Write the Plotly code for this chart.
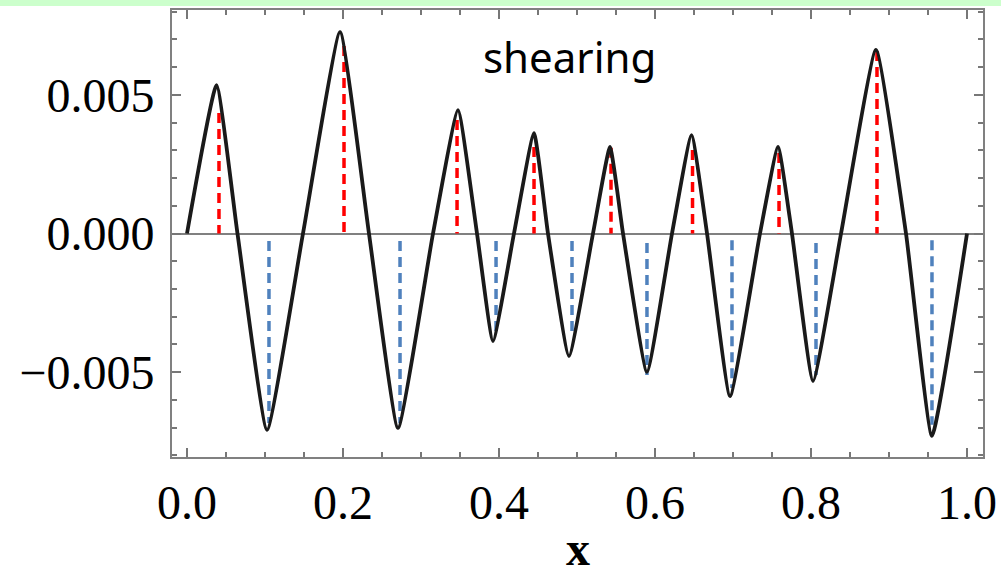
import plotly.graph_objects as go

# Main curve: key points (start, peaks, zero crossings, troughs, end)
curve_x = [0.0, 0.0378, 0.0647, 0.1026, 0.1487, 0.1962, 0.2333, 0.2705, 0.3154, 0.3474,
           0.3718, 0.3923, 0.4192, 0.4449, 0.4628, 0.4897, 0.5205, 0.5423, 0.5590, 0.5897,
           0.6218, 0.6468, 0.6667, 0.6962, 0.7346, 0.7577, 0.7756, 0.8026, 0.8385, 0.8833,
           0.9218, 0.9551, 1.0]
curve_y = [0.0, 0.00535, 0.0, -0.00708, 0.0, 0.00726, 0.0, -0.00701, 0.0, 0.00445,
           0.0, -0.00388, 0.0, 0.00362, 0.0, -0.00442, 0.0, 0.00312, 0.0, -0.00499,
           0.0, 0.00355, 0.0, -0.00586, 0.0, 0.00312, 0.0, -0.00532, 0.0, 0.00662,
           0.0, -0.00730, 0.0]

# Red dashed markers (positive lobes)
red_x = [0.0410, 0.2013, 0.3462, 0.4449, 0.5436, 0.6481, 0.7590, 0.8846]
red_top = [0.00435, 0.00676, 0.00409, 0.00312, 0.00309, 0.00301, 0.00290, 0.00658]

# Blue dashed markers (negative lobes)
blue_x = [0.1051, 0.2731, 0.3962, 0.4936, 0.5897, 0.6987, 0.8064, 0.9551]
blue_start = [-0.00027, -0.00027, -0.00027, -0.00027, -0.00034, -0.00024, -0.00034, -0.00024]
blue_bottom = [-0.00683, -0.00683, -0.00359, -0.00355, -0.00510, -0.00557, -0.00510, -0.00690]

x_ticks = [0.0, 0.2, 0.4, 0.6, 0.8, 1.0]
y_ticks = [-0.005, 0.0, 0.005]

fig = go.Figure()

rx, ry = [], []
for xv, tv in zip(red_x, red_top):
    rx += [xv, xv, None]
    ry += [tv, 0.0, None]
fig.add_trace(go.Scatter(x=rx, y=ry, mode="lines",
                         line=dict(color="#ff0000", width=3.5, dash="10px,6px"),
                         hoverinfo="skip", showlegend=False))

bx, by = [], []
for xv, sv, bv in zip(blue_x, blue_start, blue_bottom):
    bx += [xv, xv, None]
    by += [sv, bv, None]
fig.add_trace(go.Scatter(x=bx, y=by, mode="lines",
                         line=dict(color="#4f81bd", width=3.5, dash="10px,6px"),
                         hoverinfo="skip", showlegend=False))

fig.add_trace(go.Scatter(x=curve_x, y=curve_y, mode="lines",
                         line=dict(color="#1a1a1a", width=3.8, shape="spline", smoothing=0.4),
                         showlegend=False))

fig.add_annotation(x=0.491, y=0.897, xref="x", yref="paper", text="shearing",
                   showarrow=False, font=dict(family="Noto Sans", size=42, color="black"),
                   xanchor="center", yanchor="middle")

# x-axis title
fig.add_annotation(x=0.5, y=-0.2655, xref="paper", yref="paper", text="<b>x</b>",
                   showarrow=False, borderpad=0,
                   font=dict(family="Liberation Serif", size=48, color="black"),
                   xanchor="center", yanchor="bottom")

# light green band at the very top
fig.add_shape(type="rect", xref="paper", yref="paper", x0=-0.3, x1=1.1,
              y0=1.0 + 4 / 447, y1=1.0 + 14 / 447, fillcolor="#ccffcc", line_width=0,
              layer="below")

fig.update_layout(
    width=1001, height=576,
    margin=dict(l=172, r=18, t=10, b=119, autoexpand=False),
    paper_bgcolor="white", plot_bgcolor="white",
    xaxis=dict(range=[-0.01923, 1.02051], tickvals=x_ticks, tickformat=".1f",
               automargin=False,
               ticks="inside", ticklen=9, tickwidth=1.5, tickcolor="#777777",
               minor=dict(dtick=0.05, tick0=0, ticks="inside", ticklen=5, tickwidth=1.5,
                          tickcolor="#777777", showgrid=False),
               showline=True, linecolor="#808080", linewidth=2, mirror="ticks",
               showgrid=False, zeroline=False,
               tickfont=dict(family="Liberation Serif", size=48, color="black"),
               ticklabelstandoff=2),
    yaxis=dict(range=[-0.00806, 0.00806], tickvals=y_ticks, tickformat=".3f",
               automargin=False,
               ticks="inside", ticklen=9, tickwidth=1.5, tickcolor="#777777",
               minor=dict(dtick=0.001, tick0=0, ticks="inside", ticklen=5, tickwidth=1.5,
                          tickcolor="#777777", showgrid=False),
               showline=True, linecolor="#808080", linewidth=2, mirror="ticks",
               showgrid=False, zeroline=True, zerolinecolor="#808080", zerolinewidth=2,
               tickfont=dict(family="Liberation Serif", size=48, color="black"),
               ticklabelstandoff=6),
)

fig.write_html("out.html")
